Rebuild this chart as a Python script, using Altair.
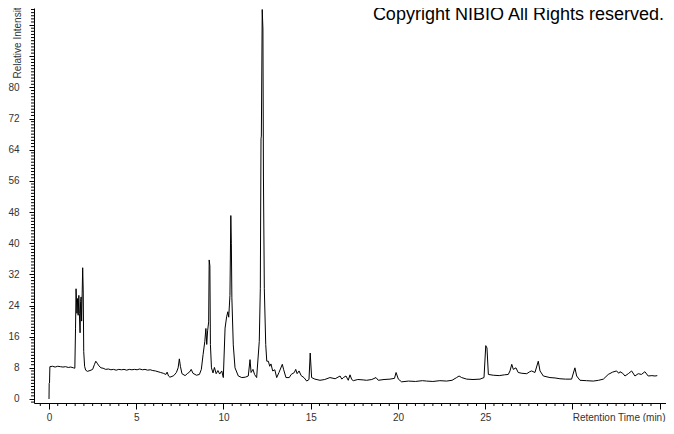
import altair as alt
import pandas as pd

# Retention time (min) and relative intensity
time_min = [
    0.00, 0.01, 0.03, 0.05, 0.20, 0.35, 0.50, 0.65, 0.80, 0.95, 1.10, 1.25, 1.40, 1.48,
    1.52, 1.55, 1.60, 1.64, 1.67, 1.71, 1.74, 1.78, 1.81, 1.84, 1.87, 1.90, 1.93, 1.96, 1.99,
    2.04, 2.10, 2.20, 2.35, 2.50, 2.60, 2.68, 2.76, 2.86, 2.98, 3.10, 3.25, 3.40, 3.55, 3.70,
    3.85, 4.00, 4.15, 4.30, 4.45, 4.60, 4.75, 4.90, 5.05, 5.20, 5.35, 5.50, 5.65, 5.80, 5.95,
    6.10, 6.25, 6.40, 6.55, 6.70, 6.77, 6.85, 6.93, 7.05, 7.15, 7.30, 7.40, 7.47, 7.53, 7.62,
    7.80, 7.95, 8.05, 8.15, 8.25, 8.45, 8.62, 8.73, 8.83, 8.93, 8.99, 9.04, 9.09, 9.15, 9.18,
    9.22, 9.25, 9.31, 9.40, 9.48, 9.58, 9.68, 9.78, 9.90, 9.99, 10.09, 10.18, 10.25, 10.30,
    10.37, 10.42, 10.45, 10.48, 10.56, 10.66, 10.85, 11.05, 11.25, 11.42, 11.52, 11.58, 11.69,
    11.78, 11.90, 12.05, 12.11, 12.15, 12.17, 12.22, 12.26, 12.29, 12.34, 12.42, 12.48, 12.57,
    12.65, 12.72, 12.82, 12.94, 13.05, 13.18, 13.37, 13.45, 13.58, 13.77, 13.88, 14.06, 14.14,
    14.22, 14.33, 14.45, 14.61, 14.77, 14.90, 14.97, 15.05, 15.24, 15.53, 15.80, 16.10, 16.40,
    16.68, 16.78, 16.87, 17.02, 17.15, 17.25, 17.35, 17.44, 17.70, 18.00, 18.20, 18.50, 18.74,
    18.87, 19.20, 19.54, 19.80, 19.89, 20.02, 20.21, 20.60, 21.00, 21.40, 21.64, 22.00, 22.40,
    22.79, 23.10, 23.36, 23.50, 23.65, 23.94, 24.30, 24.70, 24.93, 25.03, 25.10, 25.18, 25.46,
    25.80, 26.10, 26.32, 26.42, 26.52, 26.61, 26.76, 26.89, 27.10, 27.38, 27.55, 27.66, 27.85,
    28.04, 28.14, 28.33, 28.71, 29.00, 29.28, 29.60, 29.95, 30.14, 30.24, 30.43, 30.80, 31.19,
    31.50, 31.77, 32.05, 32.30, 32.53, 32.65, 32.72, 32.88, 33.01, 33.20, 33.39, 33.58, 33.77,
    33.95, 34.15, 34.34, 34.55, 34.73, 34.86,
]
intensity = [
    0.0, 4.0, 4.1, 8.3, 8.4, 8.2, 8.4, 8.3, 8.2, 8.3, 8.1, 8.2, 8.0, 7.9,
    18.0, 28.3, 22.0, 25.8, 21.5, 26.6, 22.0, 17.0, 25.0, 26.2, 20.0, 27.0, 33.7, 28.0, 12.2,
    8.4, 7.4, 7.1, 7.3, 7.6, 8.8, 9.7, 9.2, 8.5, 8.0, 7.9, 7.6, 7.7, 7.5, 7.6,
    7.4, 7.6, 7.5, 7.6, 7.4, 7.6, 7.5, 7.6, 7.5, 7.7, 7.5, 7.6, 7.4, 7.5, 7.3,
    7.2, 7.0, 6.8, 6.6, 6.3, 6.9, 5.9, 5.6, 5.8, 6.0, 6.8, 8.0, 10.3, 8.4, 6.5,
    6.0, 6.6, 6.9, 7.6, 6.6, 6.1, 6.3, 7.6, 11.4, 14.8, 18.1, 14.0, 17.5, 19.8, 35.7,
    34.2, 14.0, 8.0, 6.7, 8.1, 6.5, 7.3, 6.4, 7.2, 5.5, 18.2, 21.1, 22.4, 21.0,
    26.6, 47.1, 40.0, 26.0, 13.9, 8.0, 5.9, 5.5, 5.6, 5.9, 10.1, 6.8, 7.6,
    6.3, 5.5, 14.8, 28.3, 66.8, 67.5, 100.0, 95.0, 57.0, 28.3, 14.0, 9.7, 9.7,
    8.4, 9.0, 7.2, 7.5, 5.5, 6.8, 8.9, 7.5, 5.5, 5.5, 6.3, 6.8, 7.6,
    6.5, 7.2, 6.0, 5.5, 4.6, 5.0, 11.8, 5.5, 5.1, 4.8, 5.0, 5.5, 5.2,
    5.9, 5.1, 5.5, 5.9, 4.8, 6.2, 5.0, 4.7, 5.0, 4.9, 4.8, 5.0, 5.5,
    4.8, 5.0, 5.1, 5.3, 6.8, 5.1, 4.4, 4.6, 4.5, 4.7, 4.6, 4.5, 4.7,
    4.6, 4.8, 5.5, 5.9, 5.5, 5.1, 5.0, 5.1, 5.5, 13.7, 13.1, 6.3, 6.1,
    6.0, 6.2, 6.3, 7.2, 8.9, 7.6, 8.0, 6.8, 6.6, 6.5, 7.0, 7.2, 6.8,
    9.7, 7.2, 5.9, 5.5, 5.4, 5.2, 5.1, 5.1, 8.0, 5.9, 4.8, 4.7, 4.6,
    4.8, 5.1, 6.3, 6.9, 7.2, 6.6, 7.0, 6.6, 5.9, 6.5, 7.2, 5.9, 6.5,
    6.3, 7.0, 5.9, 6.0, 5.9, 6.0,
]

# Axis ticks: major (labelled) and minor positions
x_major_ticks = [0, 5, 10, 15, 20, 25, 30, 35]
y_major_ticks = [0, 8, 16, 24, 32, 40, 48, 56, 64, 72, 80, 88, 96]
x_minor_ticks = [round(-0.5 + 0.5 * i, 1) for i in range(72)]
x_minor_ticks = [v for v in x_minor_ticks if v not in x_major_ticks]
y_minor_ticks = [round(-0.8 + 0.8 * i, 1) for i in range(127)]
y_minor_ticks = [v for v in y_minor_ticks if abs(v / 8 - round(v / 8)) > 0.01]

x_title = "Retention Time (min)"
y_title = "Relative Intensity"
copyright_text = ["Copyright NIBIO All Rights reserved."]

df = pd.DataFrame({"t": time_min, "v": intensity})
xminor_df = pd.DataFrame({"t": x_minor_ticks})
yminor_df = pd.DataFrame({"v": y_minor_ticks})
note_df = pd.DataFrame({"text": copyright_text})

FONT = "Liberation Sans"
W, H = 632, 395

x_scale = alt.Scale(domain=[-0.86, 35.36], nice=False, zero=False)
y_scale = alt.Scale(domain=[-1.03, 100.39], nice=False, zero=False)

x_axis = alt.Axis(
    values=x_major_ticks,
    labelExpr="datum.value <= 25 ? datum.label : ''",
    tickSize=6,
    labelPadding=3,
    labelFontSize=10,
    labelFlush=False,
    labelOverlap=False,
    labelBound=False,
    title=x_title,
    titleX=W - 1,
    titleY=17,
    titleAlign="right",
    titleBaseline="alphabetic",
    titleAngle=0,
    titleFontSize=10,
    titleFontWeight="normal",
    titleFont=FONT,
    titleColor="#333333",
)

y_axis = alt.Axis(
    values=y_major_ticks,
    labelExpr="datum.value <= 80 ? datum.label : ''",
    tickSize=5,
    labelPadding=10,
    labelFontSize=10,
    labelFlush=False,
    labelOverlap=False,
    labelBound=False,
    title=y_title,
    titleAngle=270,
    titleX=-17,
    titleY=70,
    titleAlign="left",
    titleBaseline="middle",
    titleFontSize=10,
    titleFontWeight="normal",
    titleFont=FONT,
    titleColor="#333333",
)

line = alt.Chart(df).mark_line(color="black", strokeWidth=1).encode(
    x=alt.X("t:Q", scale=x_scale, axis=x_axis),
    y=alt.Y("v:Q", scale=y_scale, axis=y_axis),
)

x_minor = alt.Chart(xminor_df).mark_rule(color="black", strokeWidth=1).encode(
    x=alt.X("t:Q", scale=x_scale, axis=x_axis),
    y=alt.value(H),
    y2=alt.value(H + 3),
)

y_minor = alt.Chart(yminor_df).mark_rule(color="black", strokeWidth=1).encode(
    y=alt.Y("v:Q", scale=y_scale, axis=y_axis),
    x=alt.value(0),
    x2=alt.value(-3),
)

note = alt.Chart(note_df).mark_text(
    align="right", baseline="alphabetic", fontSize=18, font=FONT, color="black"
).encode(x=alt.value(W - 2), y=alt.value(12), text="text:N")

chart = (
    alt.layer(line, x_minor, y_minor, note)
    .properties(
        width=W,
        height=H,
        autosize=alt.AutoSizeParams(type="none"),
        padding={"left": 26, "top": 0, "right": 0, "bottom": 19},
        background="white",
    )
    .configure_axis(
        grid=False,
        domainColor="black",
        domainWidth=1,
        tickColor="black",
        tickWidth=1,
        labelColor="#333333",
        labelFont=FONT,
        labelOverlap=False,
    )
    .configure_view(strokeOpacity=0)
)

chart.save("out.html", embed_options={"renderer": "svg", "actions": False})
